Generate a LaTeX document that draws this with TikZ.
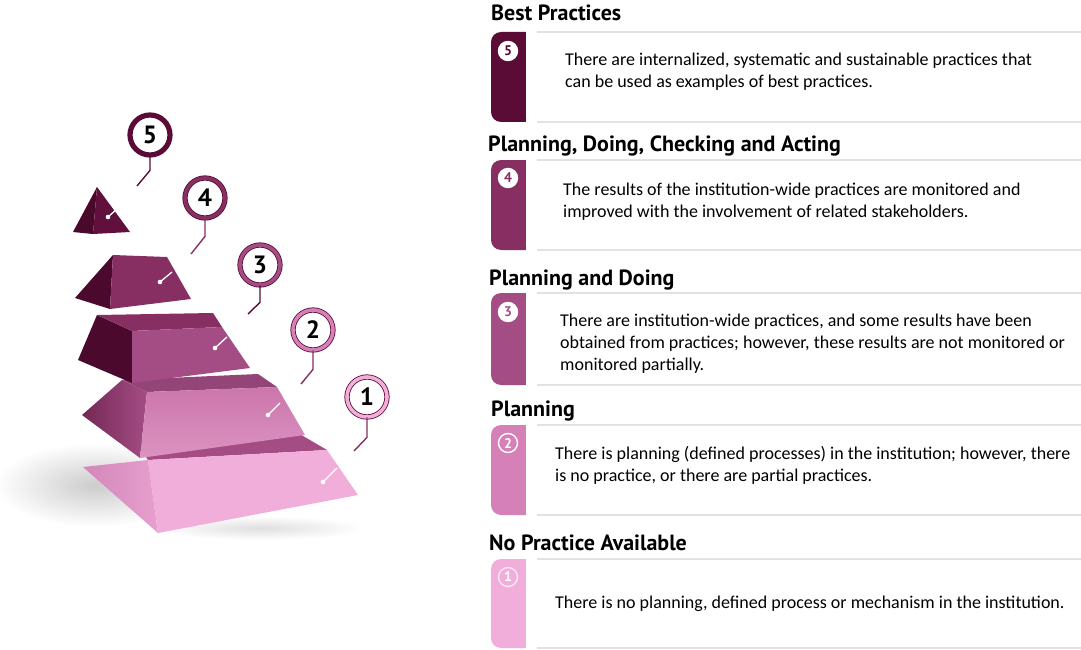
\documentclass[tikz,border=0pt]{standalone}
\usepackage{fontspec}
\setmainfont{Carlito}
\newfontfamily\headfont{PT Sans}
\usepackage{tikz}

\definecolor{lvA}{HTML}{F2AEDB}
\definecolor{lvB}{HTML}{D580B6}
\definecolor{lvC}{HTML}{A44D85}
\definecolor{lvD}{HTML}{872F63}
\definecolor{lvE}{HTML}{5A0B36}
\definecolor{rulegray}{HTML}{E2E2E2}

\begin{document}
\begin{tikzpicture}[x=1pt, y=-1pt,
  badge/.style={circle, draw=lvE, double=#1, double distance=3.6pt, line width=.8pt, fill=white, minimum size=40pt, inner sep=0pt, font=\headfont\bfseries\fontsize{25}{25}\selectfont},
  stem/.style={draw=#1, line width=1.4pt},
  faceline/.style={draw=white, line width=1.3pt},
  head/.style={anchor=base west, inner sep=0pt, font=\headfont\bfseries\fontsize{22}{24}\selectfont},
  desc/.style={anchor=west, align=left, inner sep=0pt, font=\fontsize{18}{22}\selectfont},
  tabnum/.style={circle, draw=white, line width=1.4pt, minimum size=19pt, inner sep=0pt, font=\headfont\bfseries\fontsize{14}{14}\selectfont}]
  \useasboundingbox (0,0) rectangle (1081,650);
  \fill[white] (0,0) rectangle (1081,650);

  % shadow
  \shade[inner color=gray!40, outer color=white] (95,485) ellipse (100 and 42);
  \shade[inner color=gray!25, outer color=white] (260,528) ellipse (105 and 12);

  % tier 1
  \shade[left color=lvA!60!lvC, right color=lvA!85!lvC] (83,467) -- (148,460) -- (158,533) -- cycle;
  \fill[lvC] (135,440) -- (298,433) -- (327,450) -- (148,460) -- cycle;
  \fill[lvA] (148,460) -- (327,450) -- (358,495) -- (158,533) -- cycle;
  % tier 2
  \shade[left color=lvD!85!black, right color=lvC] (147,392) -- (122,380) -- (82,415) -- (140,458) -- cycle;
  \fill[lvC!90!black] (122,380) -- (258,374) -- (277,387) -- (147,392) -- cycle;
  \shade[top color=lvB!80!lvC, bottom color=lvB!85!white] (147,392) -- (277,387) -- (305,435) -- (140,458) -- cycle;
  % tier 3
  \fill[lvE!85!black] (132,331) -- (97,315) -- (78,360) -- (132,383) -- cycle;
  \fill[lvD] (97,315) -- (213,313) -- (222,327) -- (132,331) -- cycle;
  \fill[lvC] (132,331) -- (222,327) -- (250,368) -- (132,383) -- cycle;
  % tier 4
  \fill[lvE!85!black] (113,255) -- (75,298) -- (110,309) -- cycle;
  \fill[lvD] (113,255) -- (167,257) -- (191,299) -- (110,309) -- cycle;
  % tier 5
  \fill[lvE!80!black] (97,187) -- (73,232) -- (93,234) -- cycle;
  \fill[lvE!85!lvD] (97,187) -- (93,234) -- (130,232) -- cycle;

  % badges
  \node[badge=lvE] (p5) at (150,135) {5};
  \node[badge=lvD] (p4) at (205,198) {4};
  \node[badge=lvC] (p3) at (260,265) {3};
  \node[badge=lvB] (p2) at (313,330) {2};
  \node[badge=lvA] (p1) at (367,397) {1};

  \coordinate (e5) at (137,186);
  \coordinate (e4) at (191,254);
  \coordinate (e3) at (248,314);
  \coordinate (e2) at (301,384);
  \coordinate (e1) at (354,451);
  \draw[stem=lvE] (p5.south) -- ++(0,15) -- (e5);
  \draw[stem=lvD] (p4.south) -- ++(0,18) -- (e4);
  \draw[stem=lvE] (p3.south) -- ++(0,17) -- (e3);
  \draw[stem=lvD] (p2.south) -- ++(0,19) -- (e2);
  \draw[stem=lvD] (p1.south) -- ++(0,20) -- (e1);

  \coordinate (f5) at (108,217);
  \coordinate (f4) at (160,282);
  \coordinate (f3) at (215,348);
  \coordinate (f2) at (268,415);
  \coordinate (f1) at (323,482);
  \draw[faceline] (f5) -- ++(10,-9);
  \draw[faceline] (f4) -- ++(12,-10);
  \draw[faceline] (f3) -- ++(12,-11);
  \draw[faceline] (f2) -- ++(12,-12);
  \draw[faceline] (f1) -- ++(14,-14);
  \fill[white] (f5) circle (2.3);
  \fill[white] (f4) circle (2.3);
  \fill[white] (f3) circle (2.3);
  \fill[white] (f2) circle (2.3);
  \fill[white] (f1) circle (2.3);

  % cards
  \draw[rulegray, line width=1.5pt] (526,32) -- (1081,32) (526,122) -- (1081,122);
  \draw[rulegray, line width=1.5pt] (526,160) -- (1081,160) (526,250) -- (1081,250);
  \draw[rulegray, line width=1.5pt] (526,293) -- (1081,293) (526,385) -- (1081,385);
  \draw[rulegray, line width=1.5pt] (526,425) -- (1081,425) (526,515) -- (1081,515);
  \draw[rulegray, line width=1.5pt] (526,559) -- (1081,559) (526,648) -- (1081,648);

  \fill[lvE, rounded corners=10pt] (491,32) rectangle (536,122);
  \fill[lvD, rounded corners=10pt] (491,160) rectangle (536,250);
  \fill[lvC, rounded corners=10pt] (491,293) rectangle (536,385);
  \fill[lvB, rounded corners=10pt] (491,425) rectangle (536,515);
  \fill[lvA, rounded corners=10pt] (491,559) rectangle (536,648);
  \fill[white] (526,30) rectangle (537,124);
  \fill[white] (526,158) rectangle (537,252);
  \fill[white] (526,291) rectangle (537,387);
  \fill[white] (526,423) rectangle (537,517);
  \fill[white] (526,557) rectangle (537,650);

  \node[tabnum, fill=white, text=lvE] (n5) at (508,51) {5};
  \node[tabnum, fill=white, text=lvD] (n4) at (508,178) {4};
  \node[tabnum, fill=white, text=lvC] (n3) at (508,312) {3};
  \node[tabnum, fill=lvB, text=white] (n2) at (508,443) {2};
  \node[tabnum, fill=lvA, draw=white!70!lvA, text=white] (n1) at (508,577) {1};

  \node[head] (h5) at (491,21) {Best Practices};
  \node[head] (h4) at (488,151) {Planning, Doing, Checking and Acting};
  \node[head] (h3) at (489,285) {Planning and Doing};
  \node[head] (h2) at (491,416) {Planning};
  \node[head] (h1) at (489,550) {No Practice Available};

  \node[desc] (d5) at (565,72) {There are internalized, systematic and sustainable practices that\\can be used as examples of best practices.};
  \node[desc] (d4) at (563,202) {The results of the institution-wide practices are monitored and\\improved with the involvement of related stakeholders.};
  \node[desc] (d3) at (560,344) {There are institution-wide practices, and some results have been\\obtained from practices; however, these results are not monitored or\\monitored partially.};
  \node[desc] (d2) at (555,465) {There is planning (defined processes) in the institution; however, there\\is no practice, or there are partial practices.};
  \node[desc] (d1) at (555,604) {There is no planning, defined process or mechanism in the institution.};
\end{tikzpicture}
\end{document}
